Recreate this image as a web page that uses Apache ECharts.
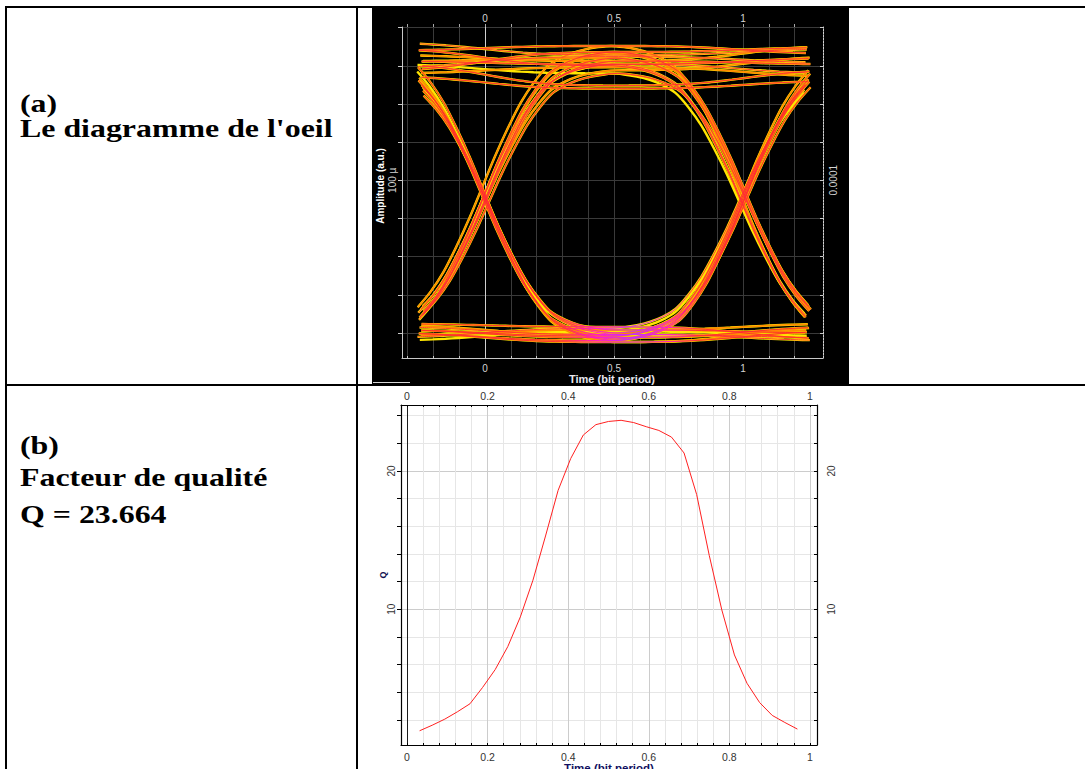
<!DOCTYPE html>
<html>
<head>
<meta charset="utf-8">
<title>Diagramme de l'oeil et facteur de qualité</title>
<script src="https://cdn.jsdelivr.net/npm/echarts@6/dist/echarts.min.js"></script>
<style>
  html, body { margin: 0; padding: 0; background: #fff; width: 1085px; height: 769px; overflow: hidden; }
  #page { position: relative; width: 1085px; height: 769px; }
  .rule { position: absolute; background: #000; }
  .cap {
    position: absolute; left: 20px; margin: 0;
    font-family: "Liberation Serif", "Times New Roman", serif;
    font-weight: bold; font-size: 25.5px; line-height: 25.5px; color: #000;
    white-space: nowrap; transform: scaleX(1.25); transform-origin: 0 0;
  }
  #scope { position: absolute; left: 372px; top: 7px; width: 477px; height: 377px; background: #000; }
  #scopeMark { position: absolute; left: 373px; top: 382px; width: 37px; height: 1px; background: #d8d8d8; }
  #chart { position: absolute; left: 0; top: 0; width: 1085px; height: 769px; }
</style>
</head>
<body>
<div id="page">
  <div id="scope"></div>
  <div id="scopeMark"></div>

  <div class="rule" style="left:5px;top:6px;width:1080px;height:2px"></div>
  <div class="rule" style="left:5px;top:6px;width:2px;height:763px"></div>
  <div class="rule" style="left:356px;top:6px;width:2px;height:763px"></div>
  <div class="rule" style="left:5px;top:384px;width:1080px;height:2px"></div>

  <div class="cap" style="top:92px;line-height:24.5px">(a)<br>Le diagramme de l'oeil</div>
  <div class="cap" style="top:433px">(b)</div>
  <div class="cap" style="top:464.5px">Facteur de qualité</div>
  <div class="cap" style="top:501.5px">Q = 23.664</div>

  <div id="chart"></div>
</div>

<script>
// ---------- Eye diagram (a) ----------
// Sampling instants of every trace, in bit periods.
const eyeTimes = [-0.25, -0.2, -0.15, -0.1, -0.05, 0, 0.05, 0.1, 0.15, 0.2, 0.25, 0.3, 0.35, 0.4, 0.45,
                  0.5, 0.55, 0.6, 0.65, 0.7, 0.75, 0.8, 0.85, 0.9, 0.95, 1, 1.05, 1.1, 1.15, 1.2, 1.25];
// Fraction of the level swing reached at offsets -0.5 … +0.5 bit around a bit boundary.
const edgeShape = [0, 0.004, 0.012, 0.025, 0.045, 0.075, 0.13, 0.2, 0.29, 0.39, 0.5,
                   0.61, 0.71, 0.8, 0.87, 0.925, 0.955, 0.975, 0.988, 0.996, 1];
// Amplitude (µ a.u.) of the previous, current and next bit for each overlaid trace.
const eyeLevels = [
  [178, 176, 180], [185, 188, 183], [170, 174, 168], [190, 182, 186],
  [176, 162, 172], [182, 178, 188], [168, 160, 165], [174, 181, 177],
  [178, 180, 2], [186, 175, -3], [172, 184, 4], [176, 170, 0],
  [1, 178, 176], [-4, 184, 187], [5, 172, 181], [0, 176, 170],
  [-2, 180, 1], [3, 188, -4], [0, 170, 3], [-5, 176, -2], [2, 183, 5],
  [179, -2, 176], [172, -5, 184], [185, 1, 170], [176, -4, 180], [168, 0, 174],
  [181, -3, 2], [174, -1, -5], [188, 2, 0], [176, -6, 4],
  [2, -2, 178], [-3, 3, 172], [5, -1, 186], [0, -5, 176],
  [2, -3, 4], [-5, 1, -2], [6, 4, -4], [0, -6, 1], [-2, 2, 6], [4, -1, -3]
];
// Timing jitter of each trace (bit periods).
const eyeJitter = [
  0.004, -0.006, 0.002, -0.003, 0.007, -0.001, 0.003, -0.008,
  0.009, -0.007, 0.005, -0.012, 0.011, -0.004, 0.008, -0.009,
  0.006, -0.011, 0.013, -0.006, 0.002, -0.008, 0.010, -0.013, 0.004, 0.012,
  -0.005, 0.009, -0.010, 0.006, 0.007, -0.012, 0.003, -0.007,
  0.002, -0.003, 0.004, -0.002, 0.001, -0.004
];
const eyeTimeTicks = [-0.3, -0.2, -0.1, 0, 0.1, 0.2, 0.3, 0.4, 0.5, 0.6, 0.7, 0.8, 0.9, 1, 1.1, 1.2];
const eyeTimeLabels = [0, 0.5, 1];
const eyeAmpTicks = [0, 25, 50, 75, 100, 125, 150, 175, 200];
const eyeAmpLabels = [100];

// ---------- Q factor (b) ----------
const qTimes = [0.03125, 0.0625, 0.09375, 0.125, 0.15625, 0.1875, 0.21875, 0.25, 0.28125, 0.3125,
                0.34375, 0.375, 0.40625, 0.4375, 0.46875, 0.5, 0.53125, 0.5625, 0.59375, 0.625,
                0.65625, 0.6875, 0.71875, 0.75, 0.78125, 0.8125, 0.84375, 0.875, 0.90625, 0.9375, 0.96875];
const qValues = [1.22, 1.62, 2.06, 2.59, 3.17, 4.35, 5.64, 7.3, 9.45, 12.1,
                 15.3, 18.6, 20.9, 22.6, 23.35, 23.58, 23.664, 23.5, 23.2, 22.93,
                 22.45, 21.3, 18.3, 13.9, 9.95, 6.7, 4.65, 3.26, 2.33, 1.82, 1.34];
const qTimeTicks = [0, 0.04, 0.08, 0.12, 0.16, 0.2, 0.24, 0.28, 0.32, 0.36, 0.4, 0.44, 0.48, 0.52,
                    0.56, 0.6, 0.64, 0.68, 0.72, 0.76, 0.8, 0.84, 0.88, 0.92, 0.96, 1];
const qTimeLabels = [0, 0.2, 0.4, 0.6, 0.8, 1];
const qTimeMajor = [0.2, 0.4, 0.6, 0.8, 1];
const qTicks = [2, 4, 6, 8, 10, 12, 14, 16, 18, 20, 22, 24];
const qLabels = [10, 20];
const qMajor = [10, 20];

// One trace: each sample blends the two bits around the nearest boundary with the edge shape.
function traceData(lv, shift) {
  return eyeTimes.map(function (t) {
    const first = t <= 0.5;
    const off = first ? t : t - 1;
    const a = first ? lv[0] : lv[1];
    const b = first ? lv[1] : lv[2];
    const k = Math.round((off + 0.5) * 20);
    return [t + shift, a + (b - a) * edgeShape[k]];
  });
}

const FONT = '"Liberation Sans", Arial, sans-serif';
const chart = echarts.init(document.getElementById('chart'), null, { renderer: 'svg', width: 1085, height: 769 });

const series = [];
const lineBase = { type: 'line', xAxisIndex: 0, yAxisIndex: 0, symbol: 'none', showSymbol: false,
                   smooth: 0.3, silent: true, animation: false };
eyeLevels.forEach(function (lv, i) {
  series.push(Object.assign({}, lineBase, { data: traceData(lv, eyeJitter[i]), z: 2,
    lineStyle: { color: '#ffe600', width: 2.4 } }));
});
eyeLevels.forEach(function (lv, i) {
  if (i % 4 === 3) return;
  series.push(Object.assign({}, lineBase, { data: traceData(lv, eyeJitter[i]), z: 3,
    lineStyle: { color: '#ff8a00', width: 1.6 } }));
});
const coolCore = new echarts.graphic.LinearGradient(0, 0, 1, 0, [
  { offset: 0, color: '#ff2a2a' }, { offset: 0.36, color: '#ff2a3a' },
  { offset: 0.46, color: '#ff10e0' }, { offset: 0.55, color: '#c030ff' },
  { offset: 0.64, color: '#ff10e0' }, { offset: 0.72, color: '#ff2a3a' }, { offset: 1, color: '#ff2a2a' }
]);
eyeLevels.forEach(function (lv, i) {
  if (i % 3 === 2) return;
  const low = lv[1] < 90;
  series.push(Object.assign({}, lineBase, { data: traceData(lv, eyeJitter[i]), z: 4,
    lineStyle: { color: low ? coolCore : '#ff2b3a', width: 0.9 } }));
});

series.push({
  type: 'line', xAxisIndex: 3, yAxisIndex: 2, symbol: 'none', showSymbol: false, silent: true,
  animation: false, z: 5,
  data: qTimes.map(function (t, i) { return [t, qValues[i]]; }),
  lineStyle: { color: '#ff2020', width: 1 }
});

const eyeX = { min: -0.322, max: 1.31 };
const eyeY = { min: -16.4, max: 200.4 };
const qX = { min: -0.0149, max: 1.0174 };
const qY = { min: 0.19, max: 24.77 };

function hiddenAxis(base, values, color) {
  return Object.assign({ type: 'value', axisLine: { show: false, onZero: false },
    axisTick: { show: false, customValues: values }, axisLabel: { show: false, customValues: values },
    splitLine: { show: true, lineStyle: { color: color, width: 1 } } }, base);
}

chart.setOption({
  animation: false,
  grid: [
    { left: 402, top: 27, width: 421, height: 331, outerBoundsMode: 'none' },
    { left: 401, top: 405, width: 416, height: 340, outerBoundsMode: 'none' }
  ],
  xAxis: [
    { gridIndex: 0, type: 'value', position: 'bottom', min: eyeX.min, max: eyeX.max,
      axisLine: { onZero: false, lineStyle: { color: '#c8c8c8', width: 1 } },
      axisTick: { customValues: eyeTimeTicks, inside: true, length: 2, lineStyle: { color: '#c8c8c8' } },
      axisLabel: { customValues: eyeTimeLabels, color: '#d4d4d4', fontSize: 10, fontFamily: FONT, margin: 5 },
      splitLine: { show: true, lineStyle: { color: '#3a3a3a', width: 1 } } },
    { gridIndex: 0, type: 'value', position: 'top', min: eyeX.min, max: eyeX.max,
      axisLine: { show: false, onZero: false },
      axisTick: { customValues: eyeTimeTicks, length: 3, lineStyle: { color: '#a8a8a8' } },
      axisLabel: { customValues: eyeTimeLabels, color: '#d4d4d4', fontSize: 10, fontFamily: FONT, margin: 4 },
      splitLine: { show: false } },
    hiddenAxis({ gridIndex: 0, position: 'bottom', min: eyeX.min, max: eyeX.max }, [0], '#d0d0d0'),
    { gridIndex: 1, type: 'value', position: 'bottom', min: qX.min, max: qX.max,
      axisLine: { onZero: false, lineStyle: { color: '#000', width: 1.2 } },
      axisTick: { customValues: qTimeTicks, inside: true, length: 2, lineStyle: { color: '#000' } },
      axisLabel: { customValues: qTimeLabels, color: '#333', fontSize: 10.5, fontFamily: FONT, margin: 6 },
      splitLine: { show: true, lineStyle: { color: '#e6e6e6', width: 1 } } },
    { gridIndex: 1, type: 'value', position: 'top', min: qX.min, max: qX.max,
      axisLine: { onZero: false, lineStyle: { color: '#000', width: 1.2 } },
      axisTick: { customValues: qTimeTicks, inside: true, length: 2, lineStyle: { color: '#000' } },
      axisLabel: { customValues: qTimeLabels, color: '#333', fontSize: 10.5, fontFamily: FONT, margin: 4 },
      splitLine: { show: false } },
    hiddenAxis({ gridIndex: 1, position: 'bottom', min: qX.min, max: qX.max }, qTimeMajor, '#cccccc'),
    hiddenAxis({ gridIndex: 1, position: 'bottom', min: qX.min, max: qX.max }, [0], '#1a1a1a')
  ],
  yAxis: [
    { gridIndex: 0, type: 'value', position: 'left', min: eyeY.min, max: eyeY.max,
      axisLine: { onZero: false, lineStyle: { color: '#c8c8c8', width: 1 } },
      axisTick: { customValues: eyeAmpTicks, length: 4, lineStyle: { color: '#c8c8c8' } },
      axisLabel: { customValues: eyeAmpLabels, rotate: 90, margin: 5, color: '#d4d4d4', fontSize: 10,
                   fontFamily: FONT, formatter: function () { return '100 µ'; } },
      splitLine: { show: true, lineStyle: { color: '#3a3a3a', width: 1 } } },
    { gridIndex: 0, type: 'value', position: 'right', min: eyeY.min, max: eyeY.max,
      axisLine: { onZero: false, lineStyle: { color: '#d0d0d0', width: 1, type: [2, 1] } },
      axisTick: { customValues: eyeAmpTicks, inside: true, length: 3, lineStyle: { color: '#c8c8c8' } },
      axisLabel: { customValues: eyeAmpLabels, rotate: 90, margin: 5, color: '#d4d4d4', fontSize: 10,
                   fontFamily: FONT, formatter: function () { return '0.0001'; } },
      splitLine: { show: false } },
    { gridIndex: 1, type: 'value', position: 'left', min: qY.min, max: qY.max,
      axisLine: { onZero: false, lineStyle: { color: '#000', width: 1.2 } },
      axisTick: { customValues: qTicks, length: 4, lineStyle: { color: '#000' } },
      axisLabel: { customValues: qLabels, rotate: 90, margin: 5, color: '#333', fontSize: 10, fontFamily: FONT },
      splitLine: { show: true, lineStyle: { color: '#e6e6e6', width: 1 } } },
    { gridIndex: 1, type: 'value', position: 'right', min: qY.min, max: qY.max,
      axisLine: { onZero: false, lineStyle: { color: '#000', width: 1.2 } },
      axisTick: { customValues: qTicks, inside: true, length: 3, lineStyle: { color: '#000' } },
      axisLabel: { customValues: qLabels, rotate: 90, margin: 9, color: '#333', fontSize: 10, fontFamily: FONT },
      splitLine: { show: false } },
    hiddenAxis({ gridIndex: 1, position: 'left', min: qY.min, max: qY.max }, qMajor, '#cccccc')
  ],
  graphic: [
    { type: 'text', x: 380, y: 186, rotation: Math.PI / 2, silent: true,
      style: { text: 'Amplitude (a.u.)', fill: '#ffffff', font: 'bold 10px ' + FONT,
               align: 'center', verticalAlign: 'middle', textAlign: 'center', textVerticalAlign: 'middle' } },
    { type: 'text', x: 612, y: 379, silent: true,
      style: { text: 'Time (bit period)', fill: '#e8e8f0', font: 'bold 11px ' + FONT,
               align: 'center', verticalAlign: 'middle', textAlign: 'center', textVerticalAlign: 'middle' } },
    { type: 'text', x: 383, y: 575, rotation: Math.PI / 2, silent: true,
      style: { text: 'Q', fill: '#101050', font: 'bold 9px ' + FONT,
               align: 'center', verticalAlign: 'middle', textAlign: 'center', textVerticalAlign: 'middle' } },
    { type: 'text', x: 609, y: 768, silent: true,
      style: { text: 'Time (bit period)', fill: '#101060', font: 'bold 11.5px ' + FONT,
               align: 'center', verticalAlign: 'middle', textAlign: 'center', textVerticalAlign: 'middle' } }
  ],
  series: series
});
</script>
</body>
</html>
